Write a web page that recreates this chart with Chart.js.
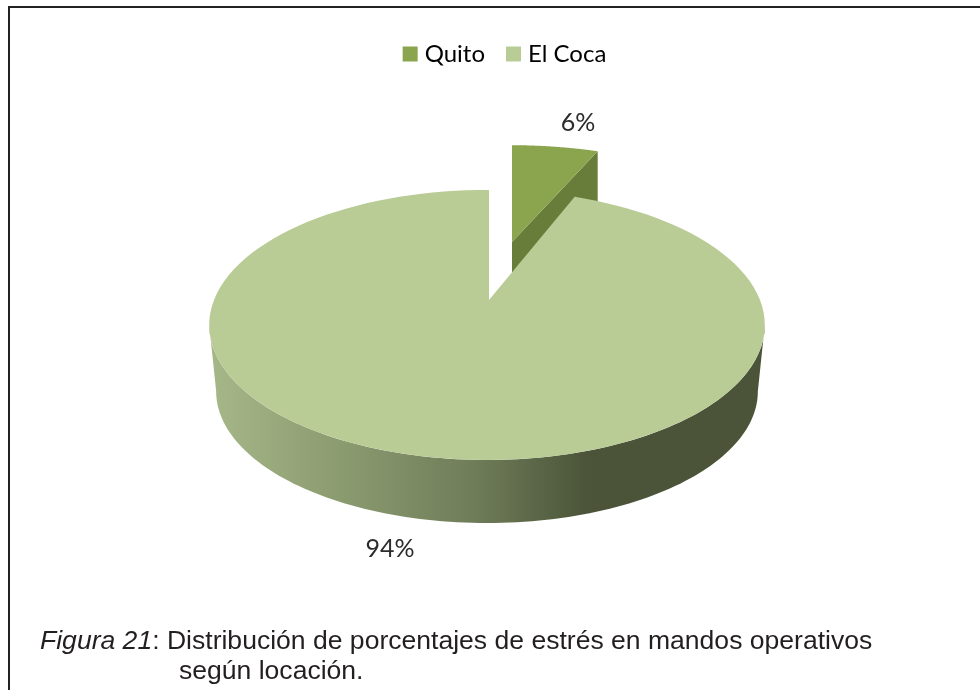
<!DOCTYPE html>
<html lang="es">
<head>
<meta charset="utf-8">
<title>Estrés en mandos operativos</title>
<script src="https://cdn.jsdelivr.net/npm/chart.js@4"></script>
<style>
    body { margin: 0; background: #fff; }
    #wrap { position: relative; width: 980px; height: 690px; overflow: hidden; }
    #chart { position: absolute; left: 0; top: 0; }
    #frame { position: absolute; left: 8px; top: 6px; right: -4px; bottom: -4px;
             border-top: 2.5px solid #222; border-left: 2.5px solid #222; }
    .caption { position: absolute; white-space: nowrap; color: #231f20;
               font: 26.55px "Liberation Sans", Arial, sans-serif; line-height: 30px; }
</style>
</head>
<body>
<div id="wrap">
    <canvas id="chart" width="980" height="690"></canvas>
    <div id="frame"></div>
    <div class="caption" style="left:40px;top:625px"><i>Figura 21</i>: Distribución de porcentajes de estrés en mandos operativos</div>
    <div class="caption" style="left:179px;top:655px">según locación.</div>
</div>

<script>
// Datos
const locations = ["Quito", "El Coca"];
const percents = [6, 94];
const topColors = ["#8ba54e", "#b9cc95"];

// Geometria del pastel en perspectiva
const APEX_X = 489, APEX_Y = 300, CENTER_X = 487;
const SCALE_X = 273, SCALE_Y = 130.4, TILT = -0.185;
const DEPTH = 67, BOTTOM_SCALE = 0.975;
const LABEL_XY = [[578, 123], [390, 549]];

// Proyecta un angulo del arco al plano de la pantalla
function project(angle, depth, scale) {
    const u = Math.cos(angle), v = Math.sin(angle);
    const w = 1 + TILT * v;
    return [
        CENTER_X + scale * SCALE_X * u / w,
        APEX_Y + depth + scale * SCALE_Y * v / w
    ];
}

function sampleArc(from, to, depth, scale) {
    const pts = [];
    const steps = 120;
    for (let i = 0; i <= steps; i++) {
        pts.push(project(from + (to - from) * i / steps, depth, scale));
    }
    return pts;
}

function fillPoly(ctx, pts, fill) {
    ctx.beginPath();
    pts.forEach((p, i) => i ? ctx.lineTo(p[0], p[1]) : ctx.moveTo(p[0], p[1]));
    ctx.closePath();
    ctx.fillStyle = fill;
    ctx.fill();
}

// Porcion separada: se desplaza y se aplana un poco respecto al vertice
function drawQuito(ctx, arc) {
    const move = p => [p[0] + 23, 242 + (p[1] - APEX_Y) * 0.88];
    const face = sampleArc(arc.startAngle, arc.endAngle, 0, 1).map(move);
    const apex = move([APEX_X, APEX_Y]);
    const rim = face[face.length - 1];
    fillPoly(ctx, [apex, rim, [rim[0], rim[1] + 55], [apex[0], apex[1] + 55]], "#697d3b");
    fillPoly(ctx, [apex].concat(face), topColors[0]);
}

// Porcion principal: lateral con degradado y cara superior
function drawCoca(ctx, arc) {
    const rightEdge = 0.186, leftEdge = Math.PI - 0.186;
    const upper = sampleArc(rightEdge, leftEdge, 0, 1);
    const lower = sampleArc(leftEdge, rightEdge, DEPTH, BOTTOM_SCALE);
    const side = ctx.createLinearGradient(209, 0, 765, 0);
    side.addColorStop(0, "#a6b788");
    side.addColorStop(0.24, "#8b9b70");
    side.addColorStop(0.48, "#6f7c58");
    side.addColorStop(0.68, "#4b5439");
    side.addColorStop(1, "#4b5439");
    fillPoly(ctx, upper.concat(lower), side);

    fillPoly(ctx, [[APEX_X, APEX_Y]].concat(sampleArc(arc.startAngle, arc.endAngle, 0, 1)), topColors[1]);
}

const pie3d = {
    id: "pie3d",
    beforeDatasetsDraw(chart) {
        const ctx = chart.ctx;
        const arcs = chart.getDatasetMeta(0).data;
        ctx.save();
        drawQuito(ctx, arcs[0]);
        drawCoca(ctx, arcs[1]);

        // Etiquetas de porcentaje
        ctx.fillStyle = "#2b2b2b";
        ctx.font = '25px Lato, sans-serif';
        ctx.textAlign = "center";
        ctx.textBaseline = "middle";
        percents.forEach((p, i) => ctx.fillText(p + "%", LABEL_XY[i][0], LABEL_XY[i][1]));
        ctx.restore();
        return false;
    }
};

new Chart(document.getElementById("chart"), {
    type: "pie",
    data: {
        labels: locations,
        datasets: [{ data: percents, backgroundColor: topColors, borderWidth: 0 }]
    },
    plugins: [pie3d],
    options: {
        responsive: false,
        animation: false,
        rotation: 0.5,
        layout: { padding: { top: 16, left: 34, bottom: 40 } },
        plugins: {
            tooltip: { enabled: false },
            legend: {
                position: "top",
                labels: {
                    color: "#2b2b2b",
                    font: { family: "Lato, sans-serif", size: 24 },
                    boxWidth: 5,
                    boxHeight: 5,
                    padding: 26,
                    // el trazo grueso da el cuadro de 15 px con el texto mas cerca
                    generateLabels: chart => locations.map((name, i) => ({
                        text: name,
                        fillStyle: topColors[i],
                        strokeStyle: topColors[i],
                        lineWidth: 10,
                        index: i
                    }))
                }
            }
        }
    }
});
</script>
</body>
</html>
